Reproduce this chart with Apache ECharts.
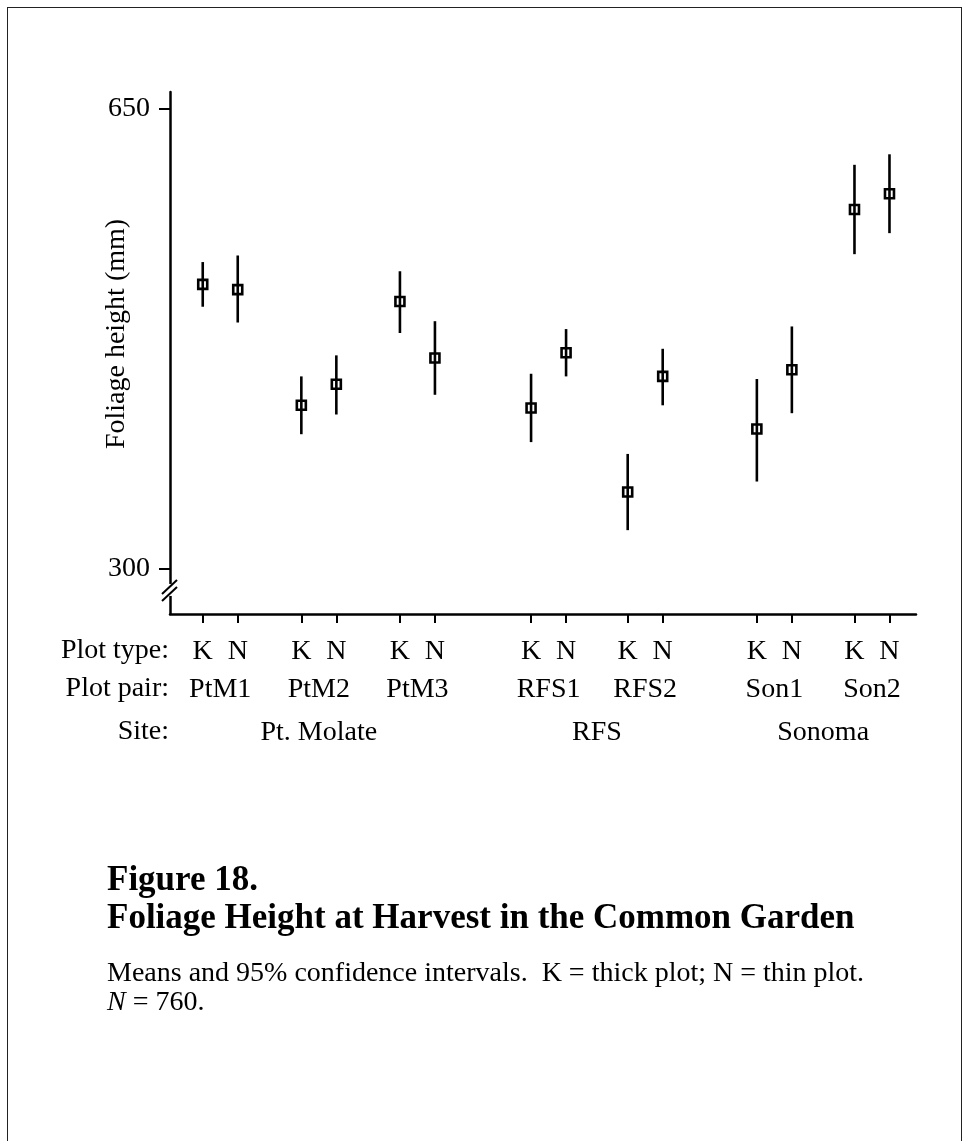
<!DOCTYPE html>
<html><head><meta charset="utf-8">
<script src="https://cdn.jsdelivr.net/npm/echarts@6/dist/echarts.min.js"></script>
<style>
html,body{margin:0;padding:0;background:#fff;overflow:hidden;}
#frame{position:absolute;left:7px;top:7px;width:955px;height:1300px;border:1px solid #222;box-sizing:border-box;}
#chart{position:absolute;left:0;top:0;width:969px;height:1141px;}
</style></head><body>
<div id="frame"></div>
<div id="chart"></div>
<script>
// ---- data ----
const pairs = ['PtM1','PtM2','PtM3','RFS1','RFS2','Son1','Son2'];
const pairSlot = [1, 2, 3, 4.33, 5.31, 6.62, 7.61];   // slot of each plot pair along the axis
const sites = ['Pt. Molate','RFS','Sonoma'];
const sitePairs = [[0,1,2],[3,4],[5,6]];
const plotTypes = ['K','N'];
const kMean = [516, 424, 503, 422, 358, 406, 573];
const kLow  = [499, 402, 479, 396, 329, 366, 539];
const kHigh = [533, 446, 526, 448, 387, 444, 607];
const nMean = [512, 440, 460, 464, 446, 451, 585];
const nLow  = [487, 417, 432, 446, 424, 418, 555];
const nHigh = [538, 462, 488, 482, 467, 484, 615];
const yTicks = [300, 650];

// ---- layout ----
const FONT = '"Liberation Serif","Times New Roman",serif';
const FS = 28;
const nOffset = 0.355;
const xMin = 0.668, xMax = 8.234;
const yMin = 265.2, yMax = 662.4;
const breakVal = 283.5;

const kPos = pairSlot.slice();
const nPos = pairSlot.map(p => p + nOffset);
const allPos = [], allType = [];
pairSlot.forEach((p,i) => { allPos.push(kPos[i], nPos[i]); allType.push(plotTypes[0], plotTypes[1]); });
const pairCenter = pairSlot.map(p => p + nOffset/2);
const siteCenter = sitePairs.map(ix => (kPos[ix[0]] + nPos[ix[ix.length-1]]) / 2);

const barData = [];
pairs.forEach((p,i) => {
  barData.push([kPos[i], kLow[i], kHigh[i], kMean[i]]);
  barData.push([nPos[i], nLow[i], nHigh[i], nMean[i]]);
});

const chart = echarts.init(document.getElementById('chart'), null, {renderer:'canvas'});
const txt = {color:'#000', fontFamily:FONT, fontSize:FS, lineHeight:FS};

function baseX(extra){
  return Object.assign({
    type:'value', min:xMin, max:xMax, position:'bottom', gridIndex:0,
    splitLine:{show:false}, axisLine:{show:false}, axisTick:{show:false}
  }, extra);
}
const f = FS + 'px ' + FONT;

chart.setOption({
  animation:false,
  backgroundColor:'transparent',
  grid:{left:170, right:53, top:92, bottom:527, containLabel:false},
  xAxis:[
    baseX({
      axisLine:{show:true, lineStyle:{color:'#000', width:2.5}},
      axisTick:{show:true, customValues:allPos, length:9, lineStyle:{color:'#000', width:2}},
      axisLabel:{customValues:allPos, margin:24, ...txt,
        formatter:v => allType[allPos.indexOf(v)]}
    }),
    baseX({
      axisLabel:{customValues:pairCenter, margin:62, ...txt,
        formatter:v => pairs[pairCenter.indexOf(v)]}
    }),
    baseX({
      axisLabel:{customValues:siteCenter, margin:105, ...txt,
        formatter:v => sites[siteCenter.indexOf(v)]}
    })
  ],
  yAxis:{
    type:'value', min:yMin, max:yMax,
    splitLine:{show:false},
    axisLine:{show:true, lineStyle:{color:'#000', width:2.5}},
    axisTick:{show:true, customValues:yTicks, length:11, lineStyle:{color:'#000', width:2}},
    axisLabel:{customValues:yTicks, margin:20, color:'#000', fontFamily:FONT, fontSize:FS}
  },
  graphic:[
    {type:'text', x:117, y:334, rotation:Math.PI/2,
      style:{text:'Foliage height (mm)', fill:'#000', font:f, textAlign:'center', textVerticalAlign:'middle'}},
    {type:'text', x:169, y:651, style:{text:'Plot type:', fill:'#000', font:f, textAlign:'right', textVerticalAlign:'middle'}},
    {type:'text', x:169, y:689, style:{text:'Plot pair:', fill:'#000', font:f, textAlign:'right', textVerticalAlign:'middle'}},
    {type:'text', x:169, y:732, style:{text:'Site:', fill:'#000', font:f, textAlign:'right', textVerticalAlign:'middle'}},
    {type:'text', x:107, y:881, style:{text:'Figure 18.', fill:'#000', font:'bold 35px '+FONT, textVerticalAlign:'middle'}},
    {type:'text', x:107, y:919, style:{text:'Foliage Height at Harvest in the Common Garden', fill:'#000', font:'bold 35px '+FONT, textVerticalAlign:'middle'}},
    {type:'text', x:107, y:974, style:{text:'Means and 95% confidence intervals.  K = thick plot; N = thin plot.', fill:'#000', font:f, textVerticalAlign:'middle'}},
    {type:'text', x:107, y:1003, style:{
      text:'{i|N} = 760.', fill:'#000', font:f, textVerticalAlign:'middle',
      rich:{i:{fontStyle:'italic', fontFamily:FONT, fontSize:FS, fill:'#000'}}}}
  ],
  series:[
    {
      type:'custom', xAxisIndex:0, yAxisIndex:0, clip:false, z:5,
      data:[[xMin, breakVal]],
      renderItem:(params, api) => {
        const p = api.coord([api.value(0), api.value(1)]);
        const x = p[0], y = p[1];
        return {type:'group', children:[
          {type:'rect', shape:{x:x-3, y:y-6, width:6, height:12}, style:{fill:'#fff'}},
          {type:'line', shape:{x1:x-8, y1:y+4, x2:x+7, y2:y-10}, style:{stroke:'#000', lineWidth:2}},
          {type:'line', shape:{x1:x-8, y1:y+11, x2:x+7, y2:y-3}, style:{stroke:'#000', lineWidth:2}}
        ]};
      }
    },
    {
      type:'custom', xAxisIndex:0, yAxisIndex:0, z:6,
      data:barData,
      renderItem:(params, api) => {
        const x = api.value(0);
        const lo = api.coord([x, api.value(1)]);
        const hi = api.coord([x, api.value(2)]);
        const m = api.coord([x, api.value(3)]);
        const s = 9;
        return {type:'group', children:[
          {type:'line', shape:{x1:lo[0], y1:lo[1], x2:hi[0], y2:hi[1]}, style:{stroke:'#000', lineWidth:2.6}},
          {type:'rect', shape:{x:m[0]-s/2, y:m[1]-s/2, width:s, height:s}, style:{fill:'none', stroke:'#000', lineWidth:2.6}}
        ]};
      }
    }
  ]
});
</script>
</body></html>
